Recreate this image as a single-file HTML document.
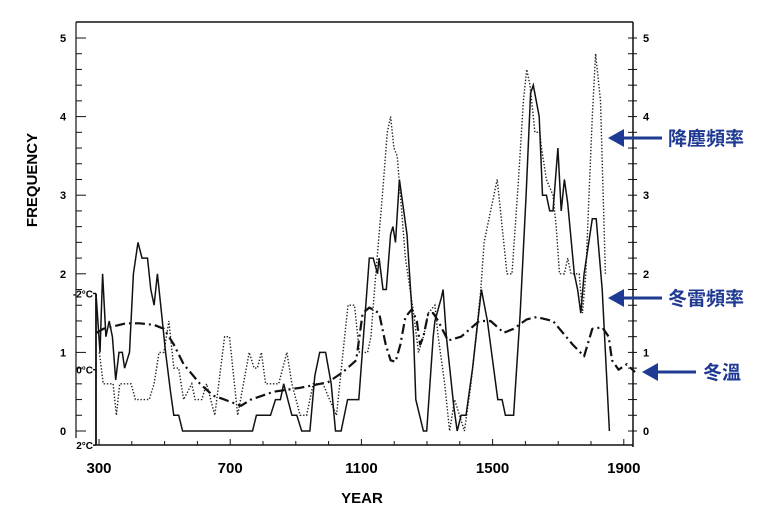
<!DOCTYPE html>
<html><head><meta charset="utf-8"><style>
html,body{margin:0;padding:0;background:#fff}
svg{display:block}
text{font-family:"Liberation Sans","Noto Sans CJK TC",sans-serif}
</style></head><body>
<svg id="c" width="768" height="525" viewBox="0 0 768 525"></svg>
<script>
const xTicks=[300,700,1100,1500,1900];
const yTicks=[0,1,2,3,4,5];
const tempLabels=["-2°C","0°C","2°C"];
const tempValues=[1.75,0.78,-0.18];
const solidYears=[291,303,311,321,331,341,351,361,371,378,393,405,419,431,448,458,468,478,488,503,518,528,543,555,768,780,823,838,853,863,888,903,918,943,958,973,991,1008,1021,1038,1058,1092,1124,1136,1149,1154,1166,1176,1189,1196,1204,1216,1239,1259,1266,1289,1299,1319,1324,1344,1349,1359,1382,1392,1404,1419,1439,1466,1484,1516,1529,1539,1564,1584,1602,1616,1624,1642,1652,1664,1674,1684,1699,1709,1719,1729,1749,1759,1769,1779,1804,1816,1834,1856];
const solidValues=[1.75,1.0,2.0,1.2,1.4,1.2,0.65,1.0,1.0,0.8,1.0,2.0,2.4,2.2,2.2,1.8,1.6,2.0,1.6,1.0,0.5,0.2,0.2,0,0,0.2,0.2,0.4,0.4,0.6,0.2,0.2,0,0,0.7,1.0,1.0,0.6,0,0,0.4,0.4,2.2,2.2,2.0,2.2,1.8,1.8,2.5,2.6,2.4,3.2,2.5,1.2,0.4,0,0,1.2,1.4,1.7,1.8,1.2,0.3,0,0.2,0.2,0.8,1.8,1.4,0.4,0.4,0.2,0.2,1.5,3.0,4.3,4.4,4.0,3.0,3.0,2.8,2.8,3.6,2.8,3.2,2.9,2.0,1.8,1.5,2.0,2.7,2.7,1.8,0];
const dotYears=[301,313,343,353,363,398,411,453,468,483,498,513,528,543,558,583,593,613,628,653,683,698,723,758,773,783,795,808,848,873,888,913,933,953,983,1003,1024,1044,1059,1079,1094,1119,1129,1144,1164,1179,1189,1199,1209,1219,1234,1259,1274,1289,1304,1324,1334,1354,1369,1384,1414,1434,1464,1474,1494,1514,1524,1544,1559,1579,1594,1604,1614,1629,1644,1649,1664,1684,1694,1704,1719,1729,1739,1764,1774,1784,1794,1804,1814,1829,1844];
const dotValues=[1.0,0.6,0.6,0.2,0.6,0.6,0.4,0.4,0.6,1.0,1.0,1.4,0.8,0.8,0.4,0.6,0.4,0.4,0.6,0.2,1.2,1.2,0.2,1.0,0.8,0.8,1.0,0.6,0.6,1.0,0.6,0.2,0.2,0.6,0.6,0.4,0.2,1.0,1.6,1.6,1.0,1.0,1.2,2.0,3.0,3.8,4.0,3.6,3.5,3.0,2.2,1.5,1.0,1.2,1.5,1.6,1.2,0.6,0,0.4,0,0.6,1.8,2.4,2.8,3.2,2.8,2.0,2.0,3.2,4.2,4.6,4.4,3.8,3.8,3.6,3.2,3.0,2.6,2.0,2.0,2.2,2.0,2.0,1.5,2.0,3.0,4.0,4.8,4.2,2.0];
const tempYears=[293,313,383,423,468,498,528,558,608,648,683,733,763,833,913,998,1044,1084,1094,1104,1124,1154,1174,1189,1204,1219,1234,1254,1269,1279,1289,1304,1319,1334,1364,1404,1459,1494,1534,1564,1604,1634,1684,1744,1779,1804,1834,1854,1864,1884,1909,1934];
const tempValuesSeries=[1.25,1.3,1.37,1.37,1.35,1.3,1.1,0.85,0.6,0.45,0.4,0.32,0.4,0.5,0.55,0.62,0.75,0.9,1.2,1.5,1.57,1.5,1.1,0.9,0.88,1.1,1.45,1.55,1.4,1.1,1.2,1.5,1.5,1.4,1.15,1.2,1.4,1.4,1.25,1.3,1.42,1.45,1.4,1.1,0.95,1.3,1.32,1.2,0.9,0.78,0.85,0.75];

const NS="http://www.w3.org/2000/svg";
const svg=document.getElementById('c');
const X=y=>99+(y-300)*0.328;
const Y=v=>431-v*78.6;
function mk(tag,attrs,parent){const e=document.createElementNS(NS,tag);for(const k in attrs)e.setAttribute(k,attrs[k]);(parent||svg).appendChild(e);return e;}

let e=mk('line',{x1:76,y1:22,x2:633,y2:22,stroke:'#111','stroke-width':1.5});


e=mk('line',{x1:76,y1:22,x2:76,y2:438,stroke:'#111','stroke-width':1.2});


e=mk('line',{x1:633,y1:22,x2:633,y2:447,stroke:'#111','stroke-width':1.5});


e=mk('line',{x1:96,y1:445,x2:633,y2:445,stroke:'#111','stroke-width':1.5});


e=mk('line',{x1:96,y1:Y(1.75),x2:96,y2:445,stroke:'#111','stroke-width':1.8});



for(let i=0;i<=25;i++){const v=i*0.2;
 e=mk('line',{x1:76,y1:Y(v),x2:i%5==0?86:82,y2:Y(v),stroke:'#111','stroke-width':1});
 
 
 e=mk('line',{x1:628,y1:Y(v),x2:637,y2:Y(v),stroke:'#111','stroke-width':1});
 
 
}
yTicks.forEach(v=>{
 e=mk('text',{x:63,y:Y(v)+4,'font-size':11,'font-weight':'bold','text-anchor':'middle'});e.textContent=v;
 
 
 e=mk('text',{x:646,y:Y(v)+4,'font-size':11,'font-weight':'bold','text-anchor':'middle'});e.textContent=v;
 
 
});
tempLabels.forEach((t,i)=>{
 e=mk('line',{x1:93,y1:Y(tempValues[i]),x2:96,y2:Y(tempValues[i]),stroke:'#111','stroke-width':1.5});
 
 
 e=mk('text',{x:93,y:Y(tempValues[i])+4,'font-size':10,'font-weight':'bold','text-anchor':'end'});e.textContent=t;
 
 
});
for(let yr=300;yr<=1900;yr+=100){
 e=mk('line',{x1:X(yr),y1:yr%400==300?439:441,x2:X(yr),y2:445,stroke:'#111','stroke-width':1});
 
 
}
xTicks.forEach(yr=>{
 e=mk('text',{x:X(yr),y:473,'font-size':15,'font-weight':'bold','text-anchor':'middle'});e.textContent=yr;
 
 
});
e=mk('text',{x:362,y:503,'font-size':15,'font-weight':'bold','text-anchor':'middle'});e.textContent='YEAR';


e=mk('text',{x:0,y:0,'font-size':15,'font-weight':'bold','text-anchor':'middle',transform:'translate(37,180) rotate(-90)'});e.textContent='FREQUENCY';



function pts(xs,vs){return xs.map((x,i)=>X(x).toFixed(1)+','+Y(vs[i]).toFixed(1)).join(' ');}
e=mk('polyline',{points:pts(dotYears,dotValues),fill:'none',stroke:'#222','stroke-width':1.4,'stroke-dasharray':'1.4 1.8'});


e=mk('polyline',{points:pts(solidYears,solidValues),fill:'none',stroke:'#111','stroke-width':1.5});


e=mk('polyline',{points:pts(tempYears,tempValuesSeries),fill:'none',stroke:'#111','stroke-width':2.2,'stroke-dasharray':'10 4 2 4','stroke-linejoin':'round'});



const ann=[[608,138,668,'降塵頻率'],[608,298,668,'冬雷頻率'],[642,372,703,'冬溫']];
ann.forEach(a=>{
 e=mk('line',{x1:a[0]+10,y1:a[1],x2:a[0]+54,y2:a[1],stroke:'#1f3a93','stroke-width':3});
 
 
 e=mk('polygon',{points:`${a[0]},${a[1]} ${a[0]+16},${a[1]-9} ${a[0]+16},${a[1]+9}`,fill:'#1f3a93'});
 
 
 e=mk('text',{x:a[2],y:a[1]+7,'font-size':19,'font-weight':'bold',fill:'#1f3a93'});e.textContent=a[3];
 
 
});
</script>
</body></html>
